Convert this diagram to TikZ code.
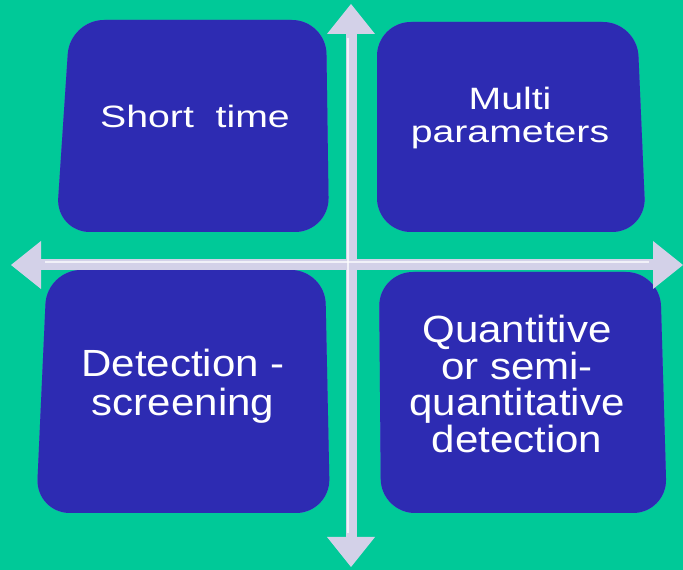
\documentclass[tikz,border=0pt]{standalone}
\usepackage{fontspec}
\setmainfont{Liberation Sans}
\newfontfamily\topfont[FakeStretch=1.27]{Liberation Sans}
\newfontfamily\lowfont[FakeStretch=1.11]{Liberation Sans}
\usetikzlibrary{arrows.meta}
\definecolor{bg-green}{HTML}{00C998}
\definecolor{shadow-green}{HTML}{008F6C}
\definecolor{tile-blue}{HTML}{2D2BB2}
\definecolor{rim-blue}{HTML}{6A6AE6}
\definecolor{axis-grey}{HTML}{D3D1E8}

\tikzset{
  tile body/.style={fill=tile-blue, rounded corners=34bp},
  tile rim/.style={fill=rim-blue, rounded corners=34bp, shift={(2.5bp,-3bp)}},
  tile shadow/.style={fill=shadow-green, opacity=0.55, rounded corners=36bp, shift={(6bp,-8bp)}},
  tile text/.style={text=white, align=center, inner sep=0pt},
  axis arrow/.style={draw=axis-grey, line width=11bp, {Triangle[width=48bp, length=30bp, line width=0pt]}-{Triangle[width=48bp, length=30bp, line width=0pt]}},
  axis shine/.style={draw=white, opacity=0.7, line width=2bp}
}

\begin{document}
\begin{tikzpicture}[x=1bp, y=1bp]
  \useasboundingbox (0,0) rectangle (683,570);
  \fill[bg-green] (0,0) rectangle (683,570);

  % corners of the four tiles
  \coordinate (tl-nw) at (70,550);  \coordinate (tl-ne) at (326,550);
  \coordinate (tl-se) at (329,338); \coordinate (tl-sw) at (56,338);
  \coordinate (tr-nw) at (377,548); \coordinate (tr-ne) at (637,548);
  \coordinate (tr-se) at (646,338); \coordinate (tr-sw) at (377,338);
  \coordinate (bl-nw) at (47,300);  \coordinate (bl-ne) at (325,300);
  \coordinate (bl-se) at (330,57);  \coordinate (bl-sw) at (36,57);
  \coordinate (br-nw) at (379,298); \coordinate (br-ne) at (660,298);
  \coordinate (br-se) at (667,57);  \coordinate (br-sw) at (381,57);

  \foreach \t in {tl,tr,bl,br} {
    \fill[tile shadow] (\t-nw) -- (\t-ne) -- (\t-se) -- (\t-sw) -- cycle;
    \fill[tile rim] (\t-nw) -- (\t-ne) -- (\t-se) -- (\t-sw) -- cycle;
    \fill[tile body] (\t-nw) -- (\t-ne) -- (\t-se) -- (\t-sw) -- cycle;
  }

  \node[tile text, font=\topfont\fontsize{31}{34}\selectfont] (short) at (195,454) {Short\ \ time};
  \node[tile text, font=\topfont\fontsize{31}{34}\selectfont] (multi) at (510,452) {Multi\\parameters};
  \node[tile text, font=\lowfont\fontsize{38}{39}\selectfont] (screen) at (183,184) {Detection -\\screening};
  \node[tile text, font=\lowfont\fontsize{38}{37}\selectfont] (quant) at (517,186) {Quantitive\\or semi-\\quantitative\\detection};

  % the two axes
  \coordinate (west) at (11,305);
  \coordinate (east) at (683,305);
  \coordinate (north) at (351,566);
  \coordinate (south) at (351,3);
  \draw[axis arrow] (west) -- (east);
  \draw[axis arrow] (south) -- (north);
  \draw[axis shine] ([shift={(34,3)}]west) -- ([shift={(-34,3)}]east);
  \draw[axis shine] ([shift={(-3,34)}]south) -- ([shift={(-3,-34)}]north);
\end{tikzpicture}
\end{document}
